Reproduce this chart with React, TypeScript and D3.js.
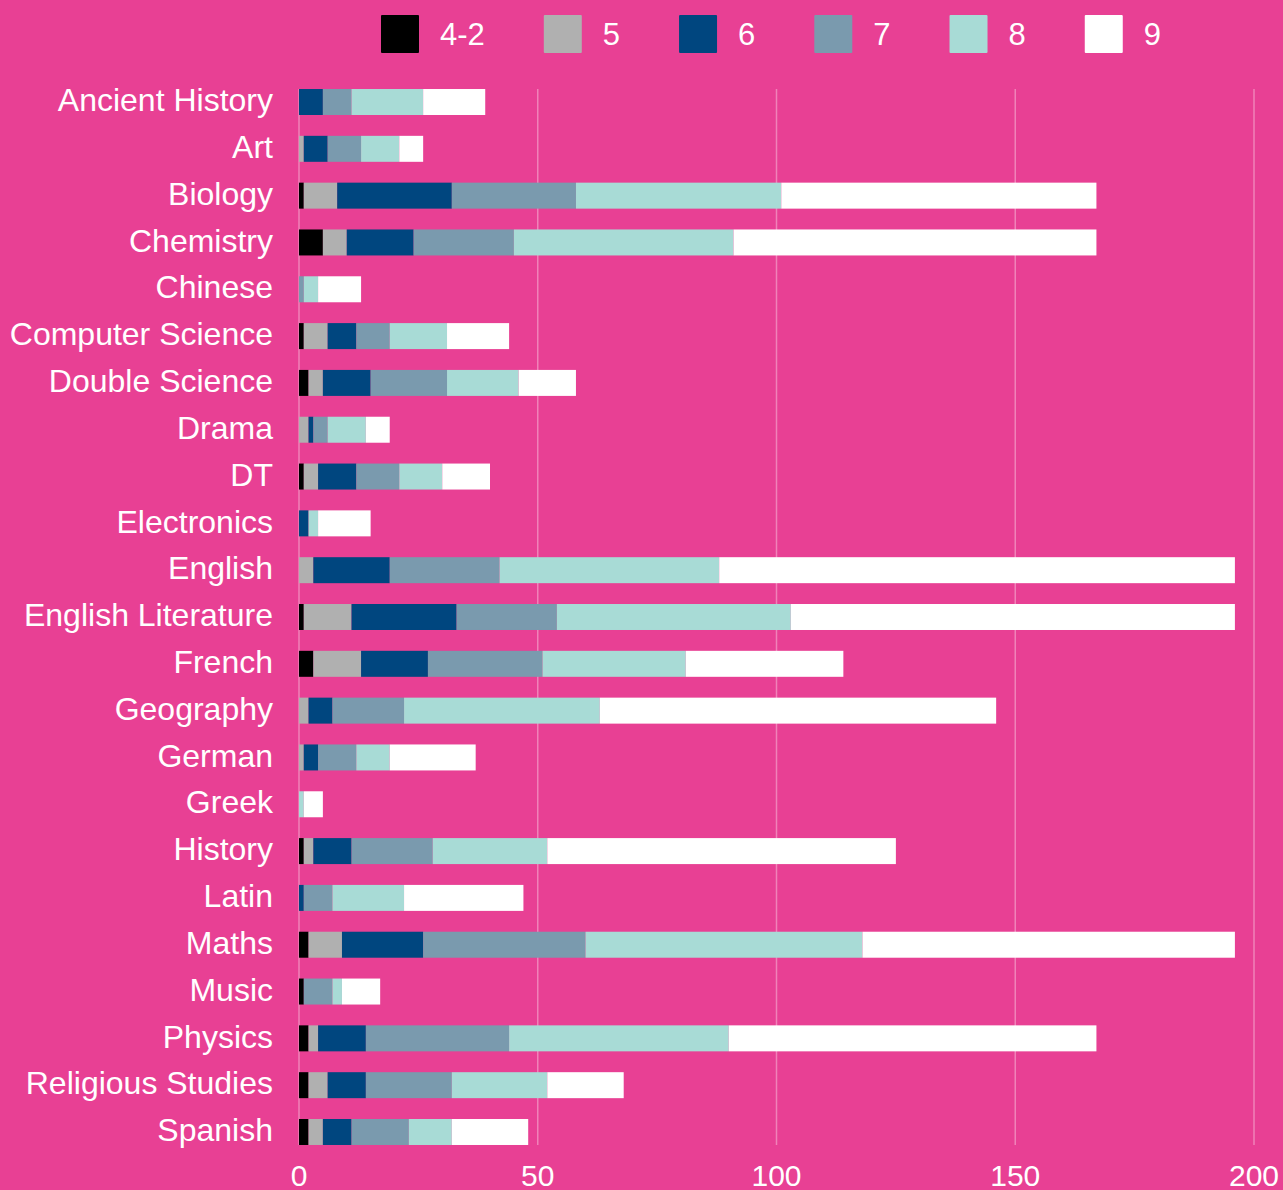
import React from "react";
import * as d3 from "d3";

const categories = ["Ancient History","Art","Biology","Chemistry","Chinese","Computer Science","Double Science","Drama","DT","Electronics","English","English Literature","French","Geography","German","Greek","History","Latin","Maths","Music","Physics","Religious Studies","Spanish"];
const seriesKeys = ["4-2","5","6","7","8","9"];
const grade42 = [0,0,1,5,0,1,2,0,1,0,0,1,3,0,0,0,1,0,2,1,2,2,2];
const grade5 = [0,1,7,5,0,5,3,2,3,0,3,10,10,2,1,0,2,0,7,0,2,4,3];
const grade6 = [5,5,24,14,0,6,10,1,8,2,16,22,14,5,3,0,8,1,17,0,10,8,6];
const grade7 = [6,7,26,21,1,7,16,3,9,0,23,21,24,15,8,0,17,6,34,6,30,18,12];
const grade8 = [15,8,43,46,3,12,15,8,9,2,46,49,30,41,7,1,24,15,58,2,46,20,9];
const grade9 = [13,5,66,76,9,13,12,5,10,11,108,93,33,83,18,4,73,25,78,8,77,16,16];
const xTicks = [0,50,100,150,200];
const colors = ["#000000","#B0B0B0","#00467F","#7A9AAE","#A8DBD6","#FFFFFF"];

const W = 1283, H = 1190;
const BG = "#E84094";
const FONT = "'Liberation Sans', Arial, Helvetica, sans-serif";

function measure(text: string, size: number) {
  const c = document.createElement("canvas").getContext("2d")!;
  c.font = `${size}px 'Liberation Sans', Arial, sans-serif`;
  return c.measureText(text).width;
}

export default function App() {
  const allSeries = [grade42, grade5, grade6, grade7, grade8, grade9];
  const rows = categories.map((c, i) => {
    const r: any = { cat: c };
    seriesKeys.forEach((k, j) => (r[k] = allSeries[j][i]));
    return r;
  });
  const stacked = d3.stack<any>().keys(seriesKeys)(rows);

  const x = d3.scaleLinear().domain([0, 200]).range([299, 1254]);
  const y = d3.scaleBand<string>().domain(categories).range([78.6, 1155.4]).paddingInner(0.445).paddingOuter(0.2225);
  const bw = y.bandwidth();
  const gridTop = y(categories[0])!;
  const gridBottom = y(categories[categories.length - 1])! + bw;

  // legend layout
  let lx = 381;
  const legendItems = seriesKeys.map((k, i) => {
    const item = { k, x: lx, color: colors[i] };
    lx += 38 + 21 + measure(k, 31) + 59;
    return item;
  });

  return (
    <svg width={W} height={H} style={{ position: "absolute", left: 0, top: 0, display: "block" }} fontFamily={FONT}>
      <rect x={0} y={0} width={W} height={H} fill={BG} />
      {xTicks.map((t) => (
        <line key={"g" + t} x1={x(t)} x2={x(t)} y1={gridTop} y2={gridBottom} stroke="rgba(255,255,255,0.35)" strokeWidth={1.5} />
      ))}
      {stacked.map((s, si) => (
        <g key={s.key} fill={colors[si]}>
          {s.map((d, i) => {
            const w = x(d[1]) - x(d[0]);
            if (w <= 0) return null;
            return <rect key={i} x={x(d[0])} y={y(categories[i])} width={w} height={bw} />;
          })}
        </g>
      ))}
      {categories.map((c) => (
        <text key={c} x={273} y={y(c)! + bw / 2 - 2} dy="0.35em" textAnchor="end" fill="#fff" fontSize={32}>{c}</text>
      ))}
      {xTicks.map((t) => (
        <text key={"t" + t} x={x(t)} y={1186} textAnchor="middle" fill="#fff" fontSize={30}>{t}</text>
      ))}
      {legendItems.map((it) => (
        <g key={it.k}>
          <rect x={it.x} y={15} width={38} height={38} fill={it.color} rx={1} />
          <text x={it.x + 38 + 21} y={34} dy="0.35em" fill="#fff" fontSize={31}>{it.k}</text>
        </g>
      ))}
    </svg>
  );
}
